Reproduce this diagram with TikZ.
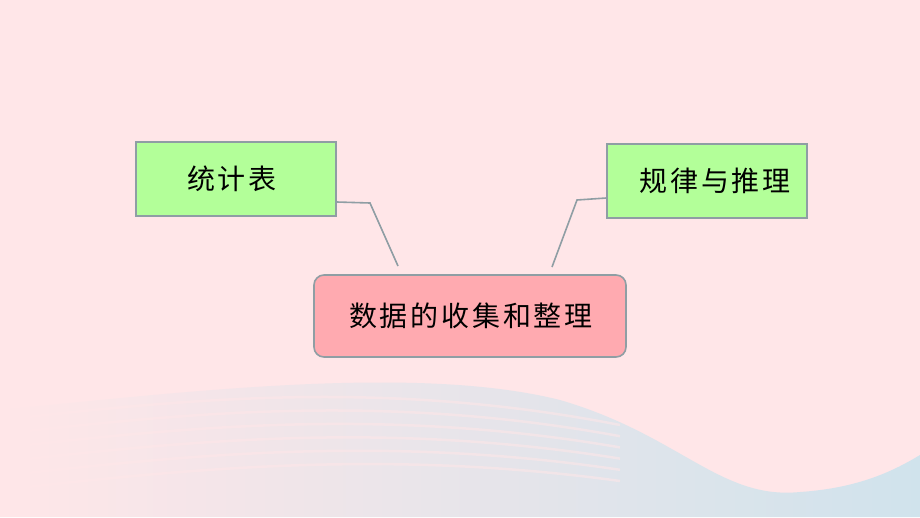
\documentclass[tikz,border=0pt]{standalone}
\usepackage{fontspec}
\newfontfamily\cjk[LetterSpace=10]{Noto Sans CJK SC}
\definecolor{bgpink}{RGB}{255,230,232}
\definecolor{wavemid}{RGB}{244,228,234}
\definecolor{waveblue}{RGB}{208,227,236}
\definecolor{boxgreen}{RGB}{179,255,153}
\definecolor{boxpink}{RGB}{255,170,176}
\definecolor{edgegray}{RGB}{143,158,164}
\tikzset{
  topicbox/.style={draw=edgegray, line width=1.6pt, fill=boxgreen, minimum width=200pt, minimum height=74pt, inner sep=0pt, font=\cjk\fontsize{28}{32}\selectfont, text=black},
  mainbox/.style={draw=edgegray, line width=1.6pt, fill=boxpink, rounded corners=10pt, minimum width=312pt, minimum height=82pt, inner sep=0pt, font=\cjk\fontsize{28}{32}\selectfont, text=black},
  link/.style={draw=edgegray, line width=1.6pt}
}
\begin{document}
\begin{tikzpicture}[x=1pt,y=-1pt]
\useasboundingbox (0,0) rectangle (920,517);
\fill[bgpink] (0,0) rectangle (920,517);
% bottom wave
\shade[left color=bgpink, middle color=wavemid, right color=waveblue, shading angle=90]
  (0,410) .. controls (200,390) and (420,365) .. (560,400)
  .. controls (680,435) and (720,500) .. (800,492)
  .. controls (860,488) and (895,470) .. (920,455)
  -- (920,517) -- (0,517) -- cycle;
\foreach \d in {0,14,28,42,56,70}{
  \draw[bgpink, line width=2.5pt, opacity=0.55]
    (0,{420+\d}) .. controls (180,{400+\d}) and (380,{378+\d}) .. (620,{425+\d*0.8});
}
\node[topicbox] (stat) at (236,179) {\raisebox{-3pt}{统计表}\hspace*{8pt}};
\node[topicbox] (rule) at (707,181) {\hspace*{16pt}规律与推理};
\node[mainbox] (main) at (470,316) {\hspace*{2pt}数据的收集和整理};
\coordinate (lbend) at (370,203);
\coordinate (lend) at (398,266);
\coordinate (rbend) at (577,200);
\coordinate (rend) at (552,267);
\draw[link] (stat.east |- 0,202) -- (lbend) -- (lend);
\draw[link] (rule.west |- 0,198) -- (rbend) -- (rend);
\end{tikzpicture}
\end{document}
